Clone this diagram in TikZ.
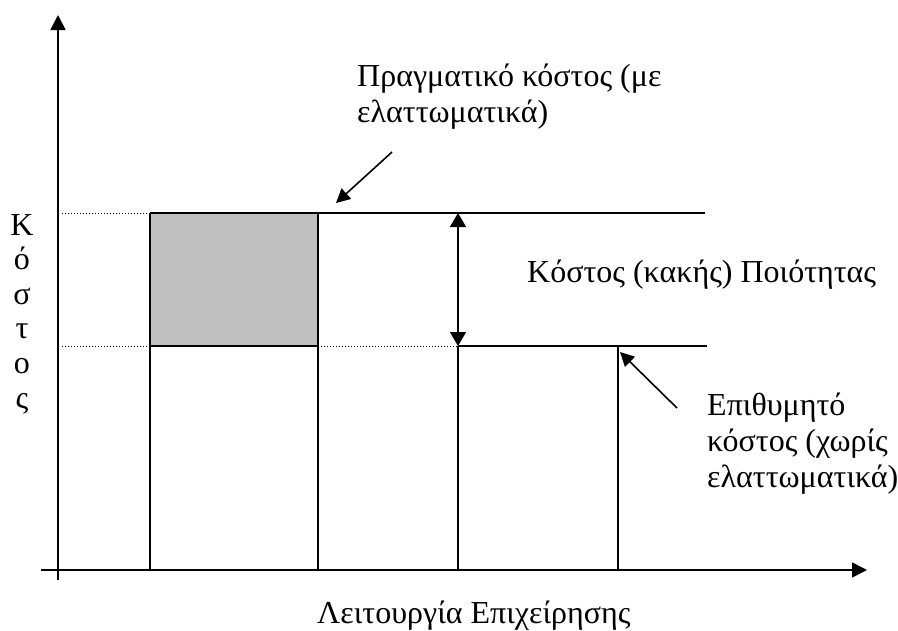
\documentclass[tikz,border=0pt]{standalone}
\usepackage{fontspec}
\setmainfont{Liberation Serif}
\usetikzlibrary{arrows.meta}
\definecolor{boxgray}{RGB}{192,192,192}
\begin{document}
\begin{tikzpicture}[x=1pt,y=-1pt,
  line/.style={line width=1.6pt,black},
  axis/.style={line width=1.8pt,black,-{Triangle[length=15pt,width=15pt]}},
  guide/.style={line width=1pt,black,dotted},
  pointer/.style={line width=1.6pt,black,-{Triangle[length=14pt,width=14pt]}},
  gap/.style={line width=1.6pt,black,{Triangle[length=14pt,width=16pt]}-{Triangle[length=14pt,width=16pt]}},
  lbl/.style={inner sep=0pt,align=left,font=\fontsize{32}{36}\selectfont}]
\useasboundingbox (0,0) rectangle (898,630);
% coordinates
\coordinate (yb) at (58,580);
\coordinate (yt) at (58,15);
\coordinate (xl) at (41,570);
\coordinate (xr) at (867,570);
\coordinate (dA) at (62,213);
\coordinate (dB) at (62,346);
\coordinate (r1) at (150,213);
\coordinate (r2) at (318,346);
\coordinate (r3) at (150,346);
\coordinate (r4) at (318,213);
\coordinate (tEnd) at (705,213);
\coordinate (m1) at (458,213);
\coordinate (m2) at (458,346);
\coordinate (bEnd) at (707,346);
\coordinate (b1) at (150,570);
\coordinate (b2) at (318,570);
\coordinate (b3) at (458,570);
\coordinate (v4t) at (618,346);
\coordinate (b4) at (618,570);
\coordinate (p1s) at (392,152);
\coordinate (p1e) at (336,203);
\coordinate (p2s) at (677,408);
\coordinate (p2e) at (620,352);
% shaded box
\fill[boxgray] (r1) rectangle (r2);
\draw[guide] (dA) -- (r1);
\draw[guide] (dB) -- (r3);
\draw[guide] (r2) -- (m2);
\draw[line] (r1) -- (tEnd);
\draw[line] (r3) -- (r2);
\draw[line] (m2) -- (bEnd);
\draw[line] (r1) -- (b1);
\draw[line] (r4) -- (b2);
\draw[line] (m2) -- (b3);
\draw[line] (v4t) -- (b4);
% axes
\draw[axis] (yb) -- (yt);
\draw[axis] (xl) -- (xr);
% arrows
\draw[gap] (m1) -- (m2);
\draw[pointer] (p1s) -- (p1e);
\draw[pointer] (p2s) -- (p2e);
% labels (base anchor = baseline of the last line)
\node[lbl,anchor=base west] (real) at (357,122) {Πραγματικό κόστος (με\\ελαττωματικά)};
\node[lbl,anchor=base west] (qual) at (527,282) {Κόστος (κακής) Ποιότητας};
\node[lbl,anchor=base west] (want) at (707,487) {Επιθυμητό\\κόστος (χωρίς\\ελαττωματικά)};
\node[lbl,anchor=base west] (xlab) at (317,623) {Λειτουργία Επιχείρησης};
\node[lbl,anchor=base,align=center,font=\fontsize{32}{34.6}\selectfont] (ylab) at (22,408) {Κ\\ό\\σ\\τ\\ο\\ς};
\end{tikzpicture}
\end{document}
